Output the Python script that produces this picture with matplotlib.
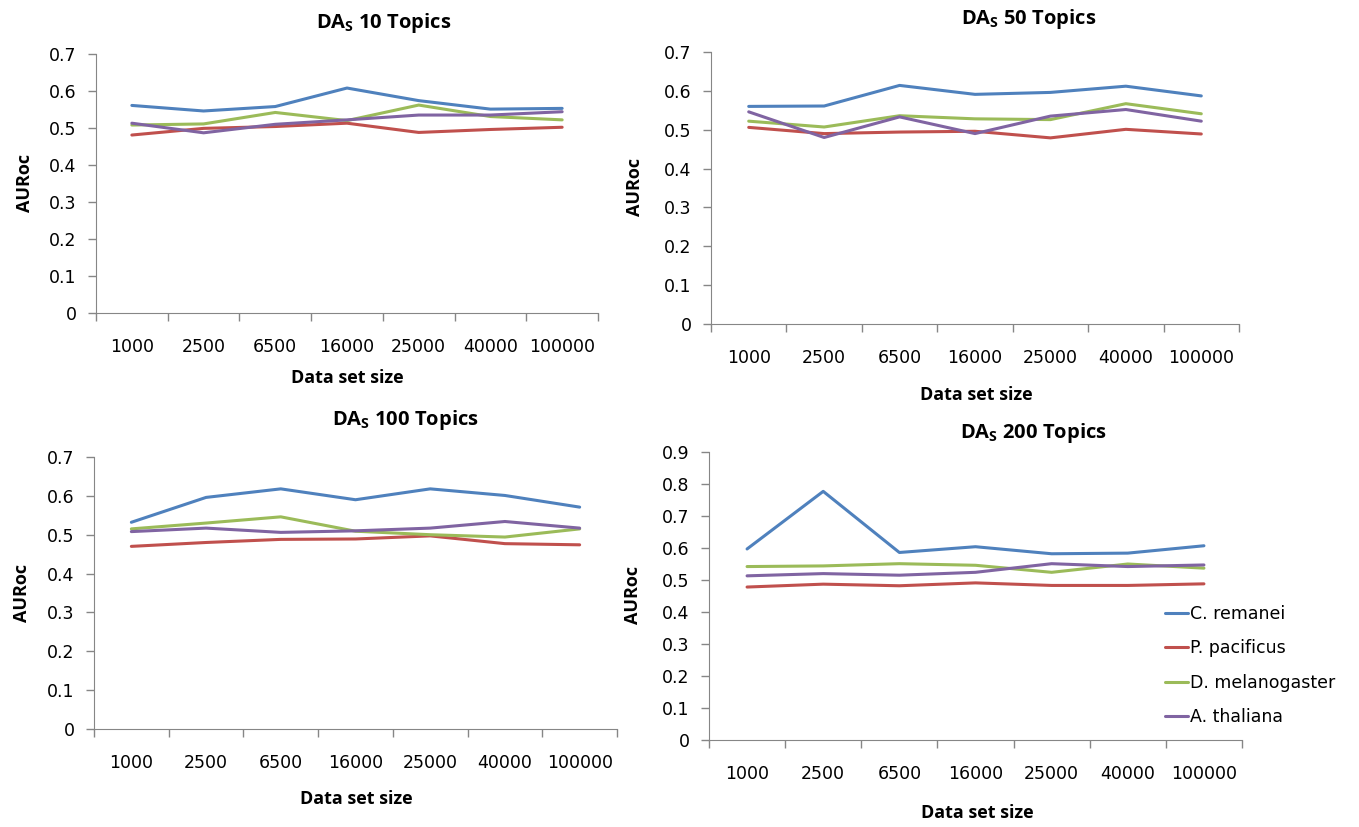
import matplotlib
matplotlib.use('Agg')
import matplotlib.pyplot as plt
import numpy as np

plt.rcParams['font.family'] = ['DejaVu Sans']

sizes = ['1000', '2500', '6500', '16000', '25000', '40000', '100000']
species = ['C. remanei', 'P. pacificus', 'D. melanogaster', 'A. thaliana']
colors = ['#4F81BD', '#C0504D', '#9BBB59', '#8064A2']

# AUROC per species, one list per topic count
t10_remanei = [0.561, 0.546, 0.558, 0.608, 0.574, 0.551, 0.553]
t10_pacificus = [0.481, 0.499, 0.504, 0.513, 0.488, 0.496, 0.502]
t10_melanogaster = [0.508, 0.511, 0.542, 0.520, 0.562, 0.531, 0.522]
t10_thaliana = [0.513, 0.487, 0.510, 0.522, 0.535, 0.535, 0.544]

t50_remanei = [0.560, 0.561, 0.614, 0.591, 0.596, 0.612, 0.587]
t50_pacificus = [0.506, 0.490, 0.494, 0.496, 0.479, 0.501, 0.489]
t50_melanogaster = [0.522, 0.507, 0.536, 0.528, 0.526, 0.567, 0.541]
t50_thaliana = [0.546, 0.480, 0.533, 0.490, 0.535, 0.552, 0.522]

t100_remanei = [0.532, 0.596, 0.618, 0.590, 0.618, 0.601, 0.571]
t100_pacificus = [0.470, 0.480, 0.488, 0.489, 0.497, 0.477, 0.474]
t100_melanogaster = [0.515, 0.530, 0.546, 0.509, 0.500, 0.494, 0.515]
t100_thaliana = [0.508, 0.517, 0.506, 0.510, 0.517, 0.534, 0.517]

t200_remanei = [0.597, 0.777, 0.586, 0.604, 0.582, 0.584, 0.607]
t200_pacificus = [0.478, 0.487, 0.482, 0.491, 0.483, 0.483, 0.488]
t200_melanogaster = [0.542, 0.544, 0.551, 0.546, 0.524, 0.550, 0.537]
t200_thaliana = [0.513, 0.520, 0.515, 0.524, 0.551, 0.542, 0.547]

W, H = 1359, 827

# axes box in pixels: left, right, top, bottom; then title, xlabel, ylabel centres
panels = [
    ('10', [t10_remanei, t10_pacificus, t10_melanogaster, t10_thaliana], 0.7,
     (96, 598, 54, 313), (384, 23), (347, 378), (25, 183)),
    ('50', [t50_remanei, t50_pacificus, t50_melanogaster, t50_thaliana], 0.7,
     (711, 1239, 52, 324), (1029, 19), (976, 395), (635, 187)),
    ('100', [t100_remanei, t100_pacificus, t100_melanogaster, t100_thaliana], 0.7,
     (94, 617, 457, 729), (405, 420), (356, 799), (22, 593)),
    ('200', [t200_remanei, t200_pacificus, t200_melanogaster, t200_thaliana], 0.9,
     (709, 1242, 452, 740), (1033, 433), (977, 813), (633, 595)),
]

fig = plt.figure(figsize=(W / 100, H / 100), dpi=100)
grey = '#868686'
bold = ['Open Sans', 'DejaVu Sans']
x = np.arange(len(sizes))

for topics, series, ymax, box, tpos, xlpos, ylpos in panels:
    l, r, t, b = box
    ax = fig.add_axes([l / W, 1 - b / H, (r - l) / W, (b - t) / H])
    for vals, name, c in zip(series, species, colors):
        ax.plot(x, vals, color=c, lw=2.2, label=name, solid_capstyle='round')
    ax.set_xlim(-0.5, len(sizes) - 0.5)
    ax.set_ylim(0, ymax)
    yt = np.round(np.arange(0, ymax + 0.01, 0.1), 1)
    ax.set_yticks(yt)
    ax.set_yticklabels(['0'] + ['%.1f' % v for v in yt[1:]])
    ax.set_xticks(x)
    ax.set_xticklabels(sizes)
    ax.set_xticks(np.arange(-0.5, len(sizes), 1.0), minor=True)
    ax.tick_params(axis='x', which='major', length=0, pad=18, labelsize=12.5)
    ax.tick_params(axis='x', which='minor', length=6, color=grey, width=1)
    ax.tick_params(axis='y', length=6, color=grey, width=1, labelsize=12.5, pad=8)
    for s in ['top', 'right']:
        ax.spines[s].set_visible(False)
    for s in ['left', 'bottom']:
        ax.spines[s].set_color(grey)
    fig.text(tpos[0] / W, 1 - tpos[1] / H, r'DA$_\mathregular{S}$ %s Topics' % topics,
             ha='center', va='center', fontsize=14.5, fontweight='bold', family=bold)
    fig.text(xlpos[0] / W, 1 - xlpos[1] / H, 'Data set size',
             ha='center', va='center', fontsize=13, fontweight='bold', family=bold)
    fig.text(ylpos[0] / W, 1 - ylpos[1] / H, 'AURoc', rotation=90,
             ha='center', va='center', fontsize=13, fontweight='bold', family=bold)
    if topics == '200':
        ax.legend(loc='upper left', bbox_to_anchor=(1165 / W, 1 - 605 / H),
                  bbox_transform=fig.transFigure, frameon=False, fontsize=12.5,
                  handlelength=1.35, handletextpad=0.1, labelspacing=0.95,
                  borderaxespad=0, borderpad=0)

fig.savefig('out.png', dpi=100)
